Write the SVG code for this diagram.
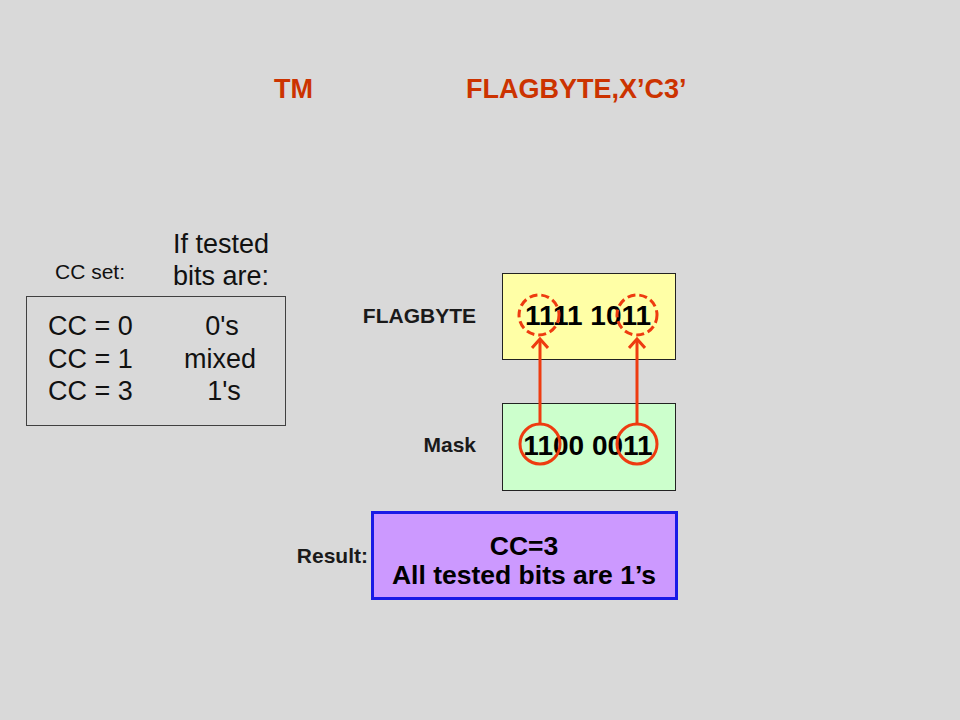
<svg xmlns="http://www.w3.org/2000/svg" width="960" height="720" viewBox="0 0 960 720">
<style>
.title{font-family:"Liberation Sans",Arial,sans-serif;font-weight:bold;font-size:27px;fill:#CC3300}
.lbl{font-family:"Liberation Sans",Arial,sans-serif;font-weight:bold;font-size:21px;fill:#1a1a1a}
.reg{font-family:"Liberation Sans",Arial,sans-serif;font-size:27px;fill:#111}
.bits{font-family:"Liberation Sans",Arial,sans-serif;font-weight:bold;font-size:28px;fill:#000}
.res{font-family:"Liberation Sans",Arial,sans-serif;font-weight:bold;font-size:26.5px;fill:#000}
.circ{fill:none;stroke:#EE3B10;stroke-width:3}
.dash{stroke-dasharray:8 4}
.arrow{stroke:#EE3B10;stroke-width:3;fill:none}
</style>
<defs>
<marker id="ah" markerWidth="14" markerHeight="18" refX="10" refY="9" orient="auto" markerUnits="userSpaceOnUse">
<path d="M1,1 L10,9 L1,17" fill="none" stroke="#EE3B10" stroke-width="3"/>
</marker>
</defs>
<rect width="960" height="720" fill="#D9D9D9"/>
<g id="title">
<text class="title" x="274" y="98">TM</text>
<text class="title" x="466" y="98">FLAGBYTE,X’C3’</text>
</g>
<g id="cc-table">
<text class="reg" x="55" y="279" style="font-size:21px">CC set:</text>
<text class="reg" x="173" y="253">If tested</text>
<text class="reg" x="173" y="285">bits are:</text>
<rect x="26.5" y="296.5" width="259" height="129" fill="none" stroke="#404040" stroke-width="1"/>
<text class="reg" x="48" y="335">CC = 0</text>
<text class="reg" x="48" y="368">CC = 1</text>
<text class="reg" x="48" y="400">CC = 3</text>
<text class="reg" x="222" y="335" text-anchor="middle">0's</text>
<text class="reg" x="220" y="368" text-anchor="middle">mixed</text>
<text class="reg" x="224" y="400" text-anchor="middle">1's</text>
</g>
<g id="flagbyte">
<text class="lbl" x="476" y="323" text-anchor="end">FLAGBYTE</text>
<rect x="502.5" y="273.5" width="173" height="86" fill="#FFFFA6" stroke="#222" stroke-width="1"/>
<text class="bits" x="588" y="325" text-anchor="middle">1111 1011</text>
<circle class="circ dash" cx="539" cy="315" r="20"/>
<circle class="circ dash" cx="637" cy="315" r="20"/>
</g>
<g id="mask">
<text class="lbl" x="476" y="452" text-anchor="end">Mask</text>
<rect x="502.5" y="403.5" width="173" height="87" fill="#CCFFCC" stroke="#222" stroke-width="1"/>
<text class="bits" x="588" y="455" text-anchor="middle">1100 0011</text>
<circle class="circ" cx="540" cy="444" r="20"/>
<circle class="circ" cx="637" cy="444" r="20"/>
</g>
<g id="connectors">
<line class="arrow" x1="540" y1="424" x2="540" y2="339" marker-end="url(#ah)"/>
<line class="arrow" x1="637" y1="424" x2="637" y2="339" marker-end="url(#ah)"/>
</g>
<g id="result">
<text class="lbl" x="368" y="563" text-anchor="end">Result:</text>
<rect x="372.5" y="512.5" width="304" height="86" fill="#CC99FF" stroke="#1A1AE6" stroke-width="3"/>
<text class="res" x="524" y="555" text-anchor="middle">CC=3</text>
<text class="res" x="524" y="584" text-anchor="middle">All tested bits are 1’s</text>
</g>
</svg>
